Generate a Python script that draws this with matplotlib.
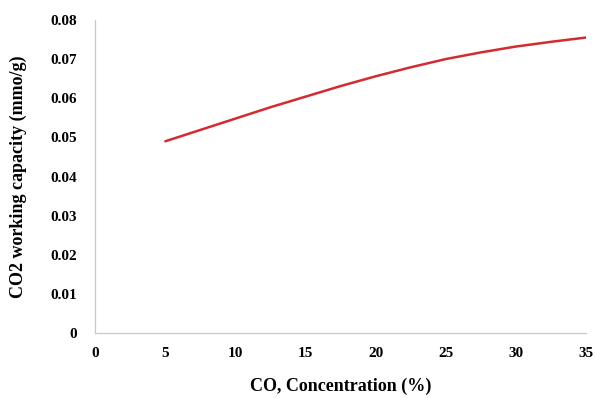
import matplotlib.pyplot as plt

# CO concentration (%) vs CO2 working capacity (mmo/g)
concentration = [5, 7.5, 10, 12.5, 15, 17.5, 20, 22.5, 25, 27.5, 30, 32.5, 35]
capacity = [0.0490, 0.0519, 0.0548, 0.0577, 0.0604, 0.0631, 0.0656,
            0.0679, 0.0700, 0.0717, 0.0732, 0.0744, 0.0755]

x_ticks = [0, 5, 10, 15, 20, 25, 30, 35]
y_ticks = [0, 0.01, 0.02, 0.03, 0.04, 0.05, 0.06, 0.07, 0.08]
y_tick_labels = ["0", "0.01", "0.02", "0.03", "0.04", "0.05", "0.06", "0.07", "0.08"]

plt.rcParams['font.family'] = ['Liberation Serif', 'DejaVu Serif']

fig = plt.figure(figsize=(5.95, 3.98), dpi=100)
ax = fig.add_axes([0.16, 0.163, 0.825, 0.787])

ax.plot(concentration, capacity, color='#d42a30', linewidth=1.8,
        solid_capstyle='round', solid_joinstyle='round')

ax.set_xlim(0, 35)
ax.set_ylim(0, 0.08)
ax.set_xticks(x_ticks)
ax.set_yticks(y_ticks)
ax.set_yticklabels(y_tick_labels)
ax.tick_params(length=0, labelsize=11)
ax.tick_params(axis='y', pad=13)
ax.tick_params(axis='x', pad=10)
for lbl in ax.get_xticklabels() + ax.get_yticklabels():
    lbl.set_fontweight('bold')

for side in ['top', 'right']:
    ax.spines[side].set_visible(False)
for side in ['left', 'bottom']:
    ax.spines[side].set_color('#c8c8c8')
    ax.spines[side].set_linewidth(0.9)

ax.set_xlabel("CO, Concentration (%)", fontsize=13, fontweight='bold', labelpad=13)
ax.set_ylabel("CO2 working capacity (mmo/g)", fontsize=13, fontweight='bold', labelpad=17)

fig.savefig("out.png", dpi=100)
